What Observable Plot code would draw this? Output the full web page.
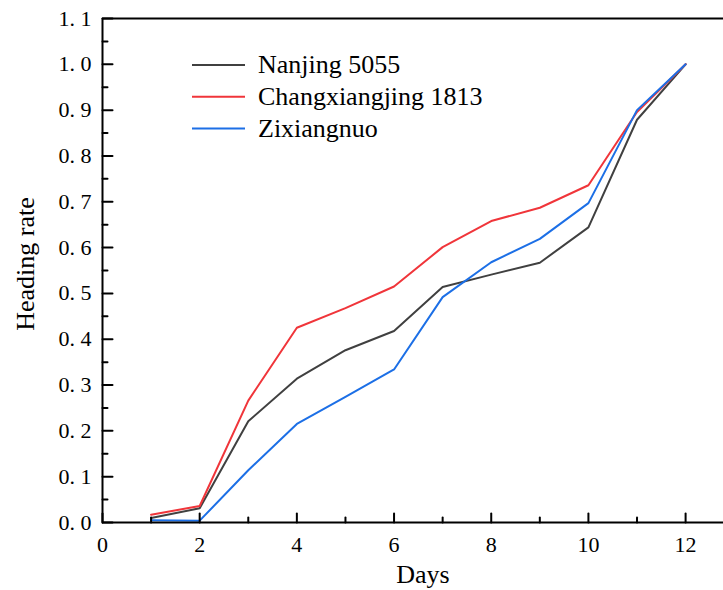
<!DOCTYPE html>
<html><head><meta charset="utf-8">
<script src="https://cdn.jsdelivr.net/npm/d3@7"></script>
<script src="https://cdn.jsdelivr.net/npm/@observablehq/plot@0.6"></script>
<style>body{margin:0;background:#fff} svg{display:block}</style>
</head><body><div id="chart"></div>
<script>
const days = [1,2,3,4,5,6,7,8,9,10,11,12];
const nanjing5055 = [0.010,0.031,0.221,0.314,0.376,0.418,0.514,0.541,0.567,0.644,0.879,1.0];
const changxiangjing1813 = [0.017,0.036,0.266,0.425,0.468,0.515,0.601,0.658,0.687,0.736,0.896,1.0];
const zixiangnuo = [0.005,0.004,0.114,0.215,0.274,0.334,0.492,0.568,0.619,0.697,0.900,1.0];
const seriesNames = ["Nanjing 5055","Changxiangjing 1813","Zixiangnuo"];
const seriesColors = ["#404040","#f0353a","#1c6fe6"];
const xTicks = [0,2,4,6,8,10,12];
const xMinorTicks = [1,3,5,7,9,11];
const yTicks = [0,0.1,0.2,0.3,0.4,0.5,0.6,0.7,0.8,0.9,1.0,1.1];
const yTickLabels = ["0. 0","0. 1","0. 2","0. 3","0. 4","0. 5","0. 6","0. 7","0. 8","0. 9","1. 0","1. 1"];
const yMinorTicks = [0.05,0.15,0.25,0.35,0.45,0.55,0.65,0.75,0.85,0.95,1.05];
const xLabel = "Days";
const yLabel = "Heading rate";

const seriesValues = [nanjing5055, changxiangjing1813, zixiangnuo];
const data = seriesNames.flatMap((s, i) => days.map((d, j) => ({series: s, day: d, rate: seriesValues[i][j]})));

const serif = "Liberation Serif, Times New Roman, serif";
const tickShape = {draw(context, l) { context.moveTo(0, 0); context.lineTo(0, -l); }};

const labelsMark = () => {
  const g = d3.create("svg:g").style("font-family", serif).attr("fill", "#000");
  seriesNames.forEach((s, i) => {
    const y = 65 + i * 31.8;
    g.append("line").attr("x1", 192).attr("x2", 245).attr("y1", y).attr("y2", y)
      .attr("stroke", seriesColors[i]).attr("stroke-width", 2);
    g.append("text").attr("x", 258).attr("y", y).attr("dy", "0.32em")
      .attr("text-anchor", "start").style("font-size", "26px").text(s);
  });
  g.append("text").attr("transform", "translate(26,264) rotate(-90)")
    .attr("dy", "0.32em").attr("text-anchor", "middle").style("font-size", "26px").text(yLabel);
  return g.node();
};

const plot = Plot.plot({
  width: 723, height: 590,
  marginLeft: 102, marginTop: 18, marginBottom: 68, marginRight: 0,
  x: {domain: [0, 12.78]},
  y: {domain: [0, 1.1]},
  color: {domain: seriesNames, range: seriesColors},
  style: {fontFamily: serif, background: "#fff", color: "#000"},
  marks: [
    Plot.line(data, {x: "day", y: "rate", stroke: "series", strokeWidth: 2}),
    Plot.ruleX([0], {strokeWidth: 2}),
    Plot.ruleY([0, 1.1], {strokeWidth: 2}),
    Plot.axisX({ticks: xTicks, tickSize: 0, tickPadding: 14, fontSize: 22, label: null, fontFamily: serif}),
    Plot.axisY({ticks: yTicks, tickSize: 0, tickPadding: 11, tickFormat: d => yTickLabels[yTicks.indexOf(d)], fontSize: 22, label: null, fontFamily: serif}),
    Plot.vector(xTicks, {x: d => d, frameAnchor: "bottom", length: 9, anchor: "start", shape: tickShape, stroke: "#000", strokeWidth: 2}),
    Plot.vector(xMinorTicks, {x: d => d, frameAnchor: "bottom", length: 5, anchor: "start", shape: tickShape, stroke: "#000", strokeWidth: 2}),
    Plot.vector(yTicks, {y: d => d, frameAnchor: "left", rotate: 90, length: 10, anchor: "start", shape: tickShape, stroke: "#000", strokeWidth: 2}),
    Plot.vector(yMinorTicks, {y: d => d, frameAnchor: "left", rotate: 90, length: 5, anchor: "start", shape: tickShape, stroke: "#000", strokeWidth: 2}),
    Plot.text([xLabel], {frameAnchor: "bottom", dx: 10, dy: 60, fontSize: 26, fill: "#000", fontFamily: serif}),
    labelsMark
  ]
});
document.getElementById("chart").appendChild(plot);
</script>
</body></html>
